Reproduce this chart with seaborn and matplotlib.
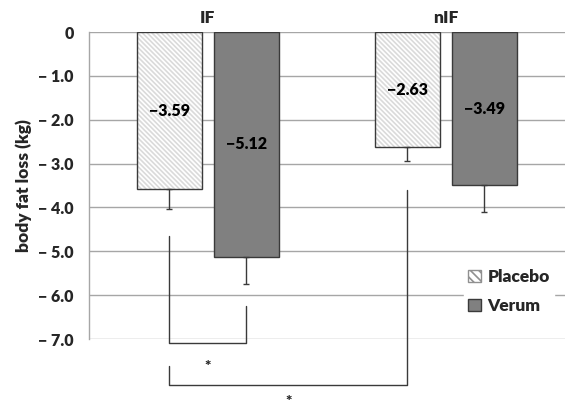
import pandas as pd
import numpy as np
import matplotlib
matplotlib.use("Agg")
import matplotlib.pyplot as plt
from matplotlib.patches import Rectangle, Patch
import seaborn as sns

groups = ["IF", "nIF"]
treatments = ["Placebo", "Verum"]
placebo_loss = [-3.59, -2.63]
verum_loss = [-5.12, -3.49]
placebo_se = [0.44, 0.31]
verum_se = [0.62, 0.61]
ytick_values = [0, -1, -2, -3, -4, -5, -6, -7]
ytick_labels = ["0", "\u2212 1.0", "\u2212 2.0", "\u2212 3.0", "\u2212 4.0",
                "\u2212 5.0", "\u2212 6.0", "\u2212 7.0"]

df = pd.DataFrame({
    "group": groups * 2,
    "treatment": ["Placebo"] * 2 + ["Verum"] * 2,
    "loss": placebo_loss + verum_loss,
    "se": placebo_se + verum_se,
})

sns.set_style("white")
plt.rcParams["font.family"] = ["Lato", "DejaVu Sans"]
plt.rcParams["font.weight"] = "heavy"
plt.rcParams["hatch.linewidth"] = 1.2
W = "heavy"

fig = plt.figure(figsize=(5.7, 4.08), dpi=100)
ax = fig.add_axes([0.156, 0.169, 0.835, 0.7525])

sns.barplot(data=df, x="group", y="loss", hue="treatment", order=groups,
            hue_order=treatments, palette={"Placebo": "white", "Verum": "#808080"},
            width=0.647, gap=0.155, errorbar=None, legend=False, ax=ax, zorder=2)

dark = "#3a3a3a"
bars = {}
for container, trt in zip(ax.containers, treatments):
    for bar, grp in zip(container, groups):
        bars[(trt, grp)] = bar
        if trt == "Placebo":
            bar.set_edgecolor("#dadada")
            bar.set_hatch("\\\\\\\\\\\\\\")
            bar.set_linewidth(0)
            ax.add_patch(Rectangle((bar.get_x(), bar.get_y()), bar.get_width(),
                                   bar.get_height(), fill=False, edgecolor=dark,
                                   linewidth=1.0, zorder=3))
        else:
            bar.set_edgecolor(dark)
            bar.set_linewidth(1.0)

# one-sided error bars and value labels
for _, row in df.iterrows():
    bar = bars[(row["treatment"], row["group"])]
    cx = bar.get_x() + bar.get_width() / 2
    ax.errorbar(cx, row["loss"], yerr=[[row["se"]], [0]], fmt="none",
                ecolor=dark, elinewidth=1, capsize=2.5, capthick=1, zorder=3)
    ax.text(cx, row["loss"] / 2, f"\u2212{abs(row['loss']):.2f}", ha="center",
            va="center", fontsize=11.5, fontweight=W, color="black", zorder=4)

ax.set_ylim(-7, 0)
ax.set_xlim(-0.5, 1.5)
ax.set_yticks(ytick_values)
ax.set_yticklabels(ytick_labels, fontsize=11.5, fontweight=W)
ax.yaxis.grid(True, color="#a6a6a6", linewidth=1.0, zorder=0)
ax.set_axisbelow(True)
ax.xaxis.tick_top()
ax.set_xticks(range(len(groups)))
ax.set_xticklabels(groups, fontsize=12.5, fontweight=W)
ax.tick_params(axis="x", length=0, pad=4)
ax.tick_params(axis="y", length=0, pad=11)
ax.set_xlabel("")
ax.set_ylabel("body fat loss (kg)", fontsize=12.5, fontweight=W, labelpad=4)
for side in ["top", "right", "bottom"]:
    ax.spines[side].set_visible(False)
ax.spines["left"].set_color("#a6a6a6")
ax.spines["left"].set_linewidth(1.0)

# significance brackets
def bx(trt, grp):
    b = bars[(trt, grp)]
    return b.get_x() + b.get_width() / 2

x1, x2, x3 = bx("Placebo", "IF"), bx("Verum", "IF"), bx("Placebo", "nIF")
ax.plot([x1, x1, x2, x2], [-4.65, -7.08, -7.08, -6.24], color=dark, lw=1,
        clip_on=False, zorder=5)
ax.text((x1 + x2) / 2, -7.62, "*", ha="center", va="center", fontsize=11,
        fontweight=W, clip_on=False)
ax.plot([x1, x1, x3, x3], [-7.61, -8.04, -8.04, -3.6], color=dark, lw=1,
        clip_on=False, zorder=5)
ax.text((x1 + x3) / 2, -8.42, "*", ha="center", va="center", fontsize=11,
        fontweight=W, clip_on=False)

handles = [Patch(facecolor="white", edgecolor="#909090", hatch="\\\\\\\\", label="Placebo"),
           Patch(facecolor="#808080", edgecolor=dark, label="Verum")]
leg = ax.legend(handles=handles, loc="center left", bbox_to_anchor=(0.77, 0.155),
                frameon=True, fancybox=False, framealpha=1, edgecolor="white",
                prop={"size": 12.5, "weight": W}, handlelength=0.75,
                handleheight=0.75, handletextpad=0.35, labelspacing=0.75,
                borderpad=0.25)
leg.set_zorder(6)

fig.savefig("out.png", dpi=100)
